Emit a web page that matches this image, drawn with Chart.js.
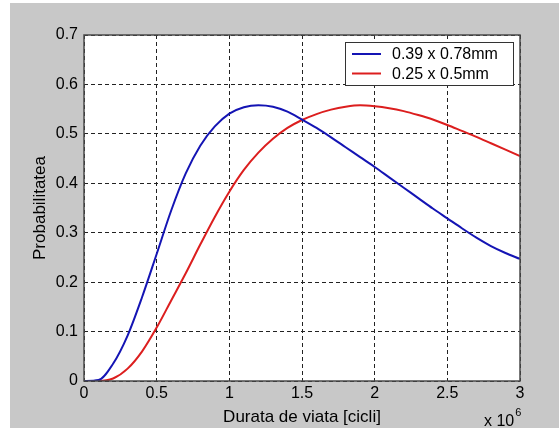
<!DOCTYPE html>
<html>
<head>
<meta charset="utf-8">
<script src="https://cdn.jsdelivr.net/npm/chart.js@4/dist/chart.umd.min.js"></script>
<style>
  html, body { margin: 0; padding: 0; background: #ffffff; }
  body { width: 559px; height: 428px; position: relative; overflow: hidden; }
  #panel { position: absolute; left: 10px; top: 3px; width: 549px; height: 425px; background: #c8c8c8; }
  canvas { display: block; }
</style>
</head>
<body>
<div id="panel"><canvas id="chart" width="549" height="425"></canvas></div>
<script>
// Fatigue life (millions of cycles) sampled every 0.1
const lifeCycles = [0, 0.1, 0.2, 0.3, 0.4, 0.5, 0.6, 0.7, 0.8, 0.9,
  1.0, 1.1, 1.2, 1.3, 1.4, 1.5, 1.6, 1.7, 1.8, 1.9,
  2.0, 2.1, 2.2, 2.3, 2.4, 2.5, 2.6, 2.7, 2.8, 2.9, 3.0];

// Probability for the 0.39 x 0.78 mm defect
const probLarge = [0, 0.002, 0.035, 0.092, 0.170, 0.257, 0.345, 0.420, 0.476, 0.515,
  0.541, 0.554, 0.558, 0.555, 0.545, 0.529, 0.512, 0.493, 0.473, 0.453,
  0.433, 0.412, 0.391, 0.370, 0.349, 0.329, 0.309, 0.290, 0.273, 0.259, 0.247];

// Probability for the 0.25 x 0.5 mm defect
const probSmall = [0, 0, 0.005, 0.025, 0.060, 0.108, 0.163, 0.218, 0.276, 0.332,
  0.383, 0.427, 0.462, 0.490, 0.512, 0.528, 0.540, 0.549, 0.555, 0.558,
  0.556, 0.552, 0.546, 0.538, 0.529, 0.518, 0.506, 0.494, 0.481, 0.468, 0.455];

// Tick labels along each axis
const xTickLabels = ['0', '0.5', '1', '1.5', '2', '2.5', '3'];
const yTickLabels = ['0', '0.1', '0.2', '0.3', '0.4', '0.5', '0.6', '0.7'];

const seriesLabels = ['0.39 x 0.78mm', '0.25 x 0.5mm'];
const xTitle = 'Durata de viata [cicli]';
const yTitle = 'Probabilitatea';
const xExponentBase = 'x 10';
const xExponent = '6';

const FONT = 'Arial, "Liberation Sans", Helvetica, sans-serif';

// White axes background, frame, exponent label and boxed legend
const axesDecor = {
  id: 'axesDecor',
  beforeDraw(chart) {
    const { ctx, chartArea: a } = chart;
    ctx.save();
    ctx.fillStyle = '#ffffff';
    ctx.fillRect(a.left, a.top, a.right - a.left, a.bottom - a.top);
    ctx.restore();
  },
  afterDraw(chart) {
    const { ctx, chartArea: a } = chart;
    ctx.save();
    // frame
    ctx.strokeStyle = '#4a4a4a';
    ctx.lineWidth = 1.5;
    ctx.strokeRect(a.left, a.top, a.right - a.left, a.bottom - a.top);

    // x 10^6
    ctx.fillStyle = '#000000';
    ctx.textBaseline = 'middle';
    ctx.textAlign = 'left';
    ctx.font = '16px ' + FONT;
    const bx = a.right - 36;
    ctx.fillText(xExponentBase, bx, a.bottom + 41);
    const w = ctx.measureText(xExponentBase).width;
    ctx.font = '11px ' + FONT;
    ctx.fillText(xExponent, bx + w + 1, a.bottom + 32);

    // legend
    const boxW = 168, boxH = 43;
    const lx = a.right - 7 - boxW;
    const ly = a.top + 7;
    ctx.fillStyle = '#ffffff';
    ctx.fillRect(lx, ly, boxW, boxH);
    ctx.strokeStyle = '#333333';
    ctx.lineWidth = 1;
    ctx.strokeRect(lx + 0.5, ly + 0.5, boxW, boxH);
    ctx.font = '16px ' + FONT;
    chart.data.datasets.forEach((ds, i) => {
      const y = ly + 12 + i * 19.5;
      ctx.strokeStyle = ds.borderColor;
      ctx.lineWidth = 2;
      ctx.beginPath();
      ctx.moveTo(lx + 7, y);
      ctx.lineTo(lx + 36, y);
      ctx.stroke();
      ctx.fillStyle = '#000000';
      ctx.fillText(ds.label, lx + 47, y + 1);
    });
    ctx.restore();
  }
};

new Chart(document.getElementById('chart'), {
  type: 'line',
  data: {
    labels: lifeCycles,
    datasets: [
      {
        label: seriesLabels[0],
        data: lifeCycles.map((x, i) => ({ x: x, y: probLarge[i] })),
        borderColor: '#1414b4',
        borderWidth: 2,
        pointRadius: 0,
        fill: false,
        cubicInterpolationMode: 'monotone'
      },
      {
        label: seriesLabels[1],
        data: lifeCycles.map((x, i) => ({ x: x, y: probSmall[i] })),
        borderColor: '#dc1e1e',
        borderWidth: 2,
        pointRadius: 0,
        fill: false,
        cubicInterpolationMode: 'monotone'
      }
    ]
  },
  options: {
    responsive: false,
    animation: false,
    events: [],
    layout: { padding: { top: 32, right: 39, left: 0, bottom: 0 } },
    plugins: {
      legend: { display: false },
      tooltip: { enabled: false },
      title: { display: false }
    },
    scales: {
      x: {
        type: 'linear',
        min: 0,
        max: 3,
        afterFit(scale) { scale.height = 47; },
        ticks: {
          stepSize: 0.5,
          padding: 3,
          color: '#000000',
          font: { family: FONT, size: 16 },
          maxRotation: 0,
          callback: (v, i) => xTickLabels[i]
        },
        grid: { color: '#222222', lineWidth: 1, drawTicks: false },
        border: { display: false, dash: [4, 3] },
        title: {
          display: true,
          text: xTitle,
          color: '#000000',
          font: { family: FONT, size: 17 },
          padding: { top: 0, bottom: 0 }
        }
      },
      y: {
        min: 0,
        max: 0.7,
        afterFit(scale) { scale.width = 74; },
        ticks: {
          stepSize: 0.1,
          padding: 6,
          color: '#000000',
          font: { family: FONT, size: 16 },
          callback: (v, i) => yTickLabels[i]
        },
        grid: { color: '#222222', lineWidth: 1, drawTicks: false },
        border: { display: false, dash: [4, 3] },
        title: {
          display: true,
          text: yTitle,
          color: '#000000',
          font: { family: FONT, size: 17 },
          padding: { top: 20, bottom: 0 }
        }
      }
    }
  },
  plugins: [axesDecor]
});
</script>
</body>
</html>
